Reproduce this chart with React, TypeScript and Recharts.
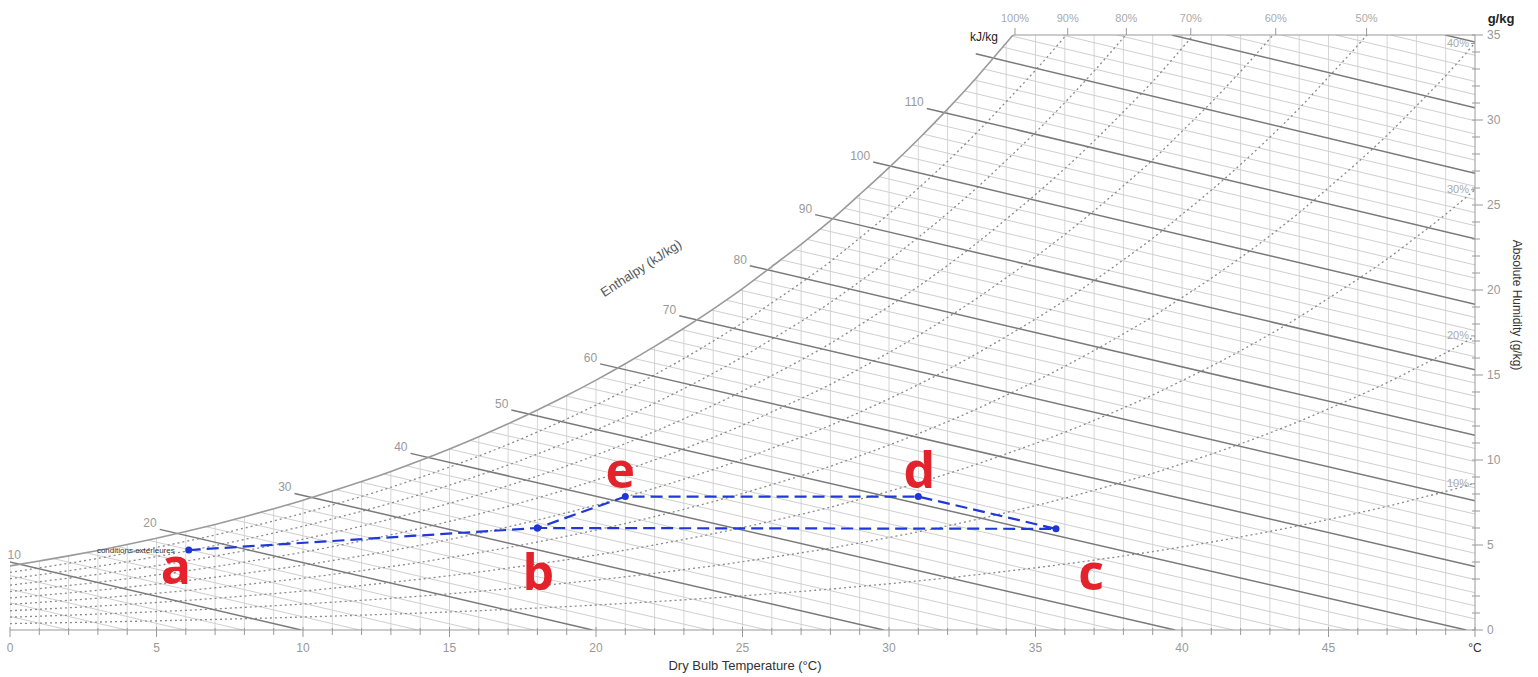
import React from 'react';
import { ComposedChart, Line, XAxis, YAxis, ReferenceLine, ReferenceDot } from 'recharts';

const FONT = '"Liberation Sans", Arial, sans-serif';

// dry bulb temperature (°C) and humidity ratio at saturation (g/kg)
const temps = [0, 1, 2, 3, 4, 5, 6, 7, 8, 9, 10, 11, 12, 13, 14, 15, 16, 17, 18, 19, 20, 21, 22, 23, 24, 25,
  26, 27, 28, 29, 30, 31, 32, 33, 34, 35, 36, 37, 38, 39, 40, 41, 42, 43, 44, 45, 46, 47, 48, 49, 50];
const satHumidity = [3.77, 4.06, 4.36, 4.68, 5.03, 5.4, 5.79, 6.21, 6.66, 7.13, 7.63, 8.17, 8.73, 9.33, 9.97,
  10.65, 11.37, 12.13, 12.94, 13.79, 14.7, 15.66, 16.68, 17.75, 18.88, 20.08, 21.38, 22.69, 24.08, 25.62,
  27.2, 28.87, 30.64, 32.52, 34.53, 36.59, 38.78, 41.1, 43.55, 46.09, 48.89, 51.73, 54.77, 57.98, 61.37,
  65.05, 68.79, 72.75, 77.07, 81.51, 86.34];

const rhLevels = [90, 80, 70, 60, 50, 40, 30, 20, 10];
const rhTopLabels = ['100%', '90%', '80%', '70%', '60%', '50%'];
const rhTopTemps = [34.3, 36.1, 38.1, 40.3, 43.2, 46.3];
const rhSideLabels = ['40%', '30%', '20%', '10%'];
const rhSideHumidity = [34.5, 25.9, 17.3, 8.6];

const enthalpyMajor = [10, 20, 30, 40, 50, 60, 70, 80, 90, 100, 110, 120, 130, 140];
const enthalpyLabelled = [10, 20, 30, 40, 50, 60, 70, 80, 90, 100, 110];
const enthalpyMinor = Array.from({ length: 70 }, (_, i) => (i + 1) * 2).filter(h => h % 10 !== 0);

const tempTicks = temps;
const humidityTicks = Array.from({ length: 36 }, (_, i) => i);

// process: a -> b -> e -> d -> c -> b
const pathNames = ['a', 'b', 'e', 'd', 'c', 'b'];
const pathTemps = [6.1, 18.0, 21.0, 31.0, 35.7, 18.0];
const pathHumidity = [4.7, 6.0, 7.85, 7.85, 5.95, 6.0];
const outdoorNote = 'conditions exterieures';

const letterOffsets: Record<string, [number, number]> = {
  a: [-13, 34], b: [1, 62], c: [35, 61], d: [1, -9], e: [-5, -9],
};

const satAt = (t: number) => {
  if (t <= 0) return satHumidity[0] + t * (satHumidity[1] - satHumidity[0]);
  if (t >= 50) return satHumidity[50];
  const i = Math.floor(t);
  return satHumidity[i] + (t - i) * (satHumidity[i + 1] - satHumidity[i]);
};

// humidity ratio (g/kg) on a line of constant enthalpy
const enthalpyW = (h: number, t: number) => (h - 1.006 * t) / (2.501 + 0.00186 * t);

const enthalpyLine = (h: number, extend: number) => {
  let t0 = 0;
  while (t0 < 50 && enthalpyW(h, t0) > Math.min(satAt(t0), 35)) t0 += 0.01;
  if (extend > 0 && t0 > 0 && enthalpyW(h, t0) < 34.9) t0 = Math.max(t0 - extend, -0.15);
  const t1 = Math.min(h / 1.006, 50);
  return [{ t: t0, w: enthalpyW(h, t0) }, { t: t1, w: Math.max(enthalpyW(h, t1), 0) }];
};

let tTop = 0;
while (satAt(tTop) < 35) tTop += 0.01;

const satCurve = temps.map((t, i) => ({ t, w: satHumidity[i] }));
const rhCurves = rhLevels.map(rh => temps.map((t, i) => ({ t, w: (satHumidity[i] * rh) / 100 })));
const verticals = temps.slice(0, 50).map((t, i) => [{ t, w: 0 }, { t, w: Math.min(satHumidity[i], 35) }]);
const minorLines = enthalpyMinor.map(h => enthalpyLine(h, 0));
const majorLines = enthalpyMajor.map(h => ({ h, pts: enthalpyLine(h, 0.6) }));
const pathData = pathNames.map((name, i) => ({ name, t: pathTemps[i], w: pathHumidity[i] }));

function TempTick(props: any) {
  const { x, y, payload } = props;
  const v = payload.value;
  const major = v % 5 === 0;
  return (
    <g>
      <line x1={x} x2={x} y1={y - (major ? 3 : 2)} y2={y + (major ? 7 : 5)} stroke="#999" />
      {major && (
        <text x={x} y={y + 22} textAnchor="middle" fontSize={12} fontFamily={FONT} fill={v === 50 ? '#333' : '#999'}>
          {v === 50 ? '°C' : v}
        </text>
      )}
    </g>
  );
}

function HumidityTick(props: any) {
  const { x, y, payload } = props;
  const v = payload.value;
  const major = v % 5 === 0;
  return (
    <g>
      <line x1={x - 3} x2={x + (major ? 8 : 5)} y1={y} y2={y} stroke="#999" />
      {major && (
        <text x={x + 12} y={y + 4} fontSize={12} fontFamily={FONT} fill="#999">{v}</text>
      )}
    </g>
  );
}

const overlay = (left: number, top: number, rotate: number, style: React.CSSProperties, text: string) => (
  <div
    style={{
      position: 'absolute', left, top, transform: `translate(-50%, -50%) rotate(${rotate}deg)`,
      whiteSpace: 'nowrap', fontFamily: FONT, pointerEvents: 'none', ...style,
    }}
  >
    {text}
  </div>
);

export default function App() {
  return (
    <div style={{ position: 'absolute', left: 0, top: 0, width: 1538, height: 677, background: '#fff' }}>
      <ComposedChart width={1538} height={677} margin={{ top: 35, right: 13, bottom: 17, left: 10 }}>
        <XAxis type="number" dataKey="t" domain={[0, 50]} ticks={tempTicks} interval={0} allowDataOverflow
          tickSize={0} tickMargin={0} height={30} stroke="#999" tick={(p: any) => <TempTick {...p} />} />
        <YAxis type="number" orientation="right" domain={[0, 35]} ticks={humidityTicks} interval={0} allowDataOverflow
          tickSize={0} tickMargin={0} width={50} stroke="#999" tick={(p: any) => <HumidityTick {...p} />} />

        {verticals.map((d, i) => (
          <Line key={'v' + i} data={d} dataKey="w" stroke="#d6d6d6" strokeWidth={1} dot={false}
            isAnimationActive={false} type="linear" />
        ))}
        {minorLines.map((d, i) => (
          <Line key={'hm' + i} data={d} dataKey="w" stroke="#cfcfcf" strokeWidth={1} dot={false}
            isAnimationActive={false} type="linear" />
        ))}
        {rhCurves.map((d, i) => (
          <Line key={'rh' + i} data={d} dataKey="w" stroke="#8a8a8a" strokeWidth={1.3} strokeDasharray="2 3"
            dot={false} isAnimationActive={false} type="monotone" />
        ))}
        {majorLines.map(({ h, pts }) => (
          <Line key={'hM' + h} data={pts} dataKey="w" stroke="#7a7a7a" strokeWidth={1.5} dot={false}
            isAnimationActive={false} type="linear" />
        ))}
        <Line data={satCurve} dataKey="w" stroke="#9a9a9a" strokeWidth={1.6} dot={false}
          isAnimationActive={false} type="monotone" />
        <ReferenceLine segment={[{ x: tTop, y: 35 }, { x: 50, y: 35 }]} stroke="#999" ifOverflow="visible" />

        {majorLines.filter(m => enthalpyLabelled.includes(m.h)).map(({ h, pts }) => (
          <ReferenceDot key={'hl' + h} x={pts[0].t} y={pts[0].w} ifOverflow="visible"
            shape={(p: any) => {
              const nearEdge = p.cx < 30;
              return (
                <text x={nearEdge ? p.cx + 2 : p.cx - 3} y={p.cy - 2} textAnchor={nearEdge ? 'start' : 'end'}
                  fontSize={12} fontFamily={FONT} fill="#999">{h}</text>
              );
            }} />
        ))}

        {rhTopLabels.map((label, i) => (
          <ReferenceDot key={'rt' + i} x={rhTopTemps[i]} y={35} ifOverflow="visible"
            shape={(p: any) => (
              <g>
                <line x1={p.cx} x2={p.cx} y1={p.cy} y2={p.cy - 7} stroke="#999" />
                <text x={p.cx} y={p.cy - 13} textAnchor="middle" fontSize={11} fontFamily={FONT} fill="#aaa">{label}</text>
              </g>
            )} />
        ))}
        {rhSideLabels.map((label, i) => (
          <ReferenceDot key={'rs' + i} x={50} y={rhSideHumidity[i]} ifOverflow="visible"
            shape={(p: any) => (
              <g>
                <line x1={p.cx - 4} x2={p.cx} y1={p.cy} y2={p.cy} stroke="#999" />
                <text x={p.cx - 6} y={p.cy + 3} textAnchor="end" fontSize={11} fontFamily={FONT} fill="#aaa">{label}</text>
              </g>
            )} />
        ))}

        <Line data={pathData} dataKey="w" stroke="#2038d8" strokeWidth={2.2} strokeDasharray="12 6"
          dot={{ r: 3.5, fill: '#1f35d6', stroke: '#1f35d6', strokeWidth: 0 }} isAnimationActive={false} type="linear" />

        <ReferenceDot x={pathTemps[0]} y={pathHumidity[0]} ifOverflow="visible"
          shape={(p: any) => (
            <text x={p.cx - 14} y={p.cy + 3} textAnchor="end" fontSize={8} fontFamily={FONT} fill="#333">{outdoorNote}</text>
          )} />
        {pathData.slice(0, 5).map(pt => (
          <ReferenceDot key={'L' + pt.name} x={pt.t} y={pt.w} ifOverflow="visible"
            shape={(p: any) => (
              <text x={p.cx + letterOffsets[pt.name][0]} y={p.cy + letterOffsets[pt.name][1]} textAnchor="middle"
                fontSize={50} fontWeight={700} fontFamily='"Open Sans", sans-serif' fill="#e3222b">{pt.name}</text>
            )} />
        ))}
      </ComposedChart>

      {overlay(745, 665, 0, { fontSize: 13, color: '#333' }, 'Dry Bulb Temperature (°C)')}
      {overlay(1517, 305, 90, { fontSize: 12, color: '#333' }, 'Absolute Humidity (g/kg)')}
      {overlay(1501, 18, 0, { fontSize: 13, color: '#222', fontWeight: 700 }, 'g/kg')}
      {overlay(984, 37, 0, { fontSize: 12, color: '#222' }, 'kJ/kg')}
      {overlay(641, 268, -33, { fontSize: 13, color: '#555' }, 'Enthalpy (kJ/kg)')}
    </div>
  );
}
